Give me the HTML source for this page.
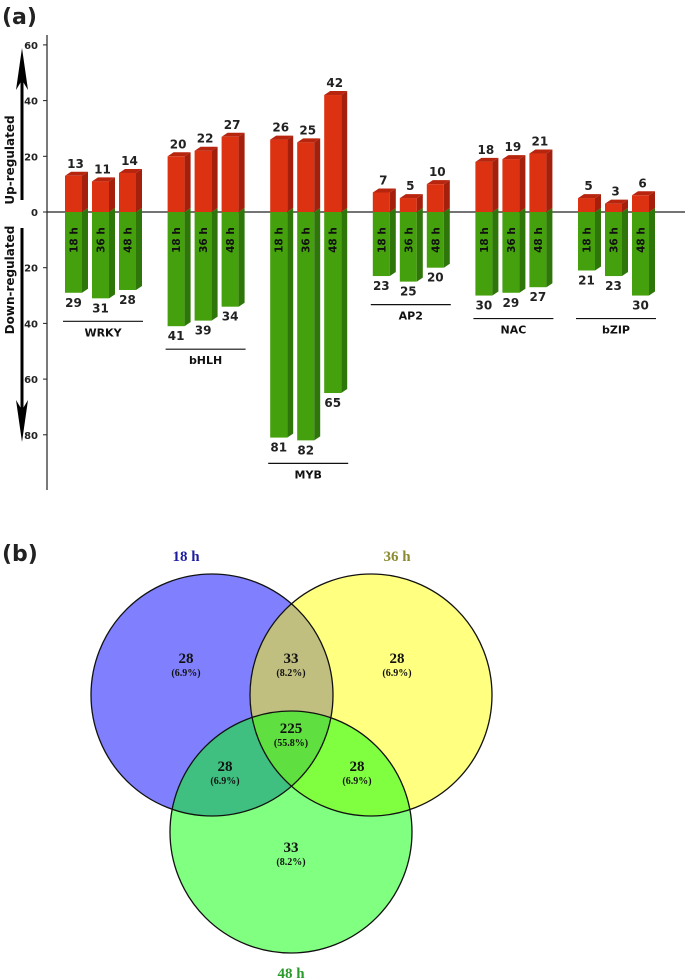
<!DOCTYPE html>
<html><head><meta charset="utf-8"><style>
body{margin:0;background:#fff}
svg{display:block}
.t{font-family:"DejaVu Sans","Liberation Sans",sans-serif;font-weight:bold}
.s{font-family:"Liberation Serif",serif;font-weight:bold}
</style></head><body>
<svg id="c" width="685" height="979" viewBox="0 0 685 979" xmlns="http://www.w3.org/2000/svg">
<text x="2" y="24" class="t" font-size="22" fill="#222">(a)</text>
<g id="axis"></g>
<g id="bars"></g>
<text x="2" y="561" class="t" font-size="22" fill="#222">(b)</text>
<g id="venn"></g>
</svg>
<script>
const families=["WRKY","bHLH","MYB","AP2","NAC","bZIP"];
const times=["18 h","36 h","48 h"];
const upValues=[[13,11,14],[20,22,27],[26,25,42],[7,5,10],[18,19,21],[5,3,6]];
const downValues=[[29,31,28],[41,39,34],[81,82,65],[23,25,20],[30,29,27],[21,23,30]];
const upTicks=[0,20,40,60];
const downTicks=[20,40,60,80];
const NS="http://www.w3.org/2000/svg";
function mk(p,tag,attrs,txt){const e=document.createElementNS(NS,tag);for(const k in attrs)e.setAttribute(k,attrs[k]);if(txt!==undefined)e.textContent=txt;p.appendChild(e);return e;}
const y0=212,k=2.785;
const yUp=v=>y0-v*k, yDn=v=>y0+v*k;
const gx=i=>65+i*102.6, bx=(i,j)=>gx(i)+j*27;
const ax=document.getElementById('axis');
let l=mk(ax,'line',{x1:47,y1:35,x2:47,y2:490,stroke:'#222','stroke-width':1.2});


l=mk(ax,'line',{x1:47,y1:y0,x2:685,y2:y0,stroke:'#222','stroke-width':1.2});


upTicks.forEach(v=>{const y=yUp(v);mk(ax,'line',{x1:43,y1:y,x2:47,y2:y,stroke:'#222'});
 const t=mk(ax,'text',{x:38,y:y+4,'text-anchor':'end','font-size':10,fill:'#222',class:'t'},v);
 
 });
downTicks.forEach(v=>{const y=yDn(v);mk(ax,'line',{x1:43,y1:y,x2:47,y2:y,stroke:'#222'});
 const t=mk(ax,'text',{x:38,y:y+4,'text-anchor':'end','font-size':10,fill:'#222',class:'t'},v);
 
 });
// arrows
mk(ax,'line',{x1:22,y1:200,x2:22,y2:75,stroke:'#000','stroke-width':3});
mk(ax,'polygon',{points:'22,48 16,90 22,80 28,90',fill:'#000'});
mk(ax,'line',{x1:22,y1:228,x2:22,y2:410,stroke:'#000','stroke-width':3});
mk(ax,'polygon',{points:'22,442 16,400 22,410 28,400',fill:'#000'});
let t=mk(ax,'text',{x:0,y:0,transform:'translate(14,160) rotate(-90)','text-anchor':'middle','font-size':12,fill:'#111',class:'t','font-weight':'normal'},'Up-regulated');


t=mk(ax,'text',{x:0,y:0,transform:'translate(14,280) rotate(-90)','text-anchor':'middle','font-size':12,fill:'#111',class:'t'},'Down-regulated');


const bg=document.getElementById('bars');
const W=17,D=6,H=4;
families.forEach((f,i)=>{
 let maxB=0;
 times.forEach((tm,j)=>{
  const x=bx(i,j),u=upValues[i][j],d=downValues[i][j];
  const yt=yUp(u),yb=yDn(d);maxB=Math.max(maxB,yb);
  const g=mk(bg,'g',{});
  
  
  mk(g,'rect',{x:x,y:y0,width:W,height:yb-y0,fill:'#44a00c'});
  mk(g,'polygon',{points:`${x+W},${y0} ${x+W+D},${y0-H} ${x+W+D},${yb-H} ${x+W},${yb}`,fill:'#2f760a'});
  mk(g,'rect',{x:x,y:yt,width:W,height:y0-yt,fill:'#dc3212'});
  mk(g,'polygon',{points:`${x+W},${yt} ${x+W+D},${yt-H} ${x+W+D},${y0-H} ${x+W},${y0}`,fill:'#a41f0c'});
  mk(g,'polygon',{points:`${x},${yt} ${x+D},${yt-H} ${x+W+D},${yt-H} ${x+W},${yt}`,fill:'#b8250e'});
  let a=mk(bg,'text',{x:x+W/2+2,y:yt-8,'text-anchor':'middle','font-size':12,fill:'#222',class:'t'},u);
  
  
  a=mk(bg,'text',{x:x+W/2,y:yb+14,'text-anchor':'middle','font-size':12,fill:'#222',class:'t'},d);
  
  
  a=mk(bg,'text',{x:0,y:0,transform:`translate(${x+W/2+4},${y0+28}) rotate(-90)`,'text-anchor':'middle','font-size':10.5,fill:'#111',class:'t','font-weight':'normal'},tm);
  
  
 });
 const ly=maxB+23;
 mk(bg,'line',{x1:gx(i)-2,y1:ly,x2:gx(i)+78,y2:ly,stroke:'#111','stroke-width':1.2});
 const a=mk(bg,'text',{x:gx(i)+38,y:ly+15,'text-anchor':'middle','font-size':11,fill:'#111',class:'t'},f);
 
 
});
// Venn
const vennCounts=[28,28,33,33,28,28,225];
const vennPct=["6.9%","6.9%","8.2%","8.2%","6.9%","6.9%","55.8%"];
const vg=document.getElementById('venn');
const C=[{x:212,y:695,c:'#8080ff'},{x:371,y:695,c:'#ffff80'},{x:291,y:832,c:'#80ff80'}],R=121;
const defs=mk(vg,'defs',{});
C.forEach((c,i)=>{const cp=mk(defs,'clipPath',{id:'cp'+i});mk(cp,'circle',{cx:c.x,cy:c.y,r:R});});
C.forEach((c,i)=>{const e=mk(vg,'circle',{cx:c.x,cy:c.y,r:R,fill:c.c});
 
 });
let g=mk(vg,'g',{'clip-path':'url(#cp0)'});mk(g,'circle',{cx:C[1].x,cy:C[1].y,r:R,fill:'#c0bf80'});
g=mk(vg,'g',{'clip-path':'url(#cp0)'});mk(g,'circle',{cx:C[2].x,cy:C[2].y,r:R,fill:'#3fbf80'});
g=mk(vg,'g',{'clip-path':'url(#cp1)'});mk(g,'circle',{cx:C[2].x,cy:C[2].y,r:R,fill:'#80ff40'});
g=mk(vg,'g',{'clip-path':'url(#cp0)'});const g2=mk(g,'g',{'clip-path':'url(#cp1)'});mk(g2,'circle',{cx:C[2].x,cy:C[2].y,r:R,fill:'#5fdf40'});
C.forEach(c=>mk(vg,'circle',{cx:c.x,cy:c.y,r:R,fill:'none',stroke:'#111','stroke-width':1.3}));
const pos=[[186,663],[397,663],[291,663],[291,852],[225,771],[357,771],[291,733]];
vennCounts.forEach((n,i)=>{
 let a=mk(vg,'text',{x:pos[i][0],y:pos[i][1],'text-anchor':'middle','font-size':15,fill:'#111',class:'s'},n);
 
 
 a=mk(vg,'text',{x:pos[i][0],y:pos[i][1]+13,'text-anchor':'middle','font-size':10,fill:'#111',class:'s'},'('+vennPct[i]+')');
 
 
});
[['18 h',186,561,'#1c1ca0'],['36 h',397,561,'#8a8a30'],['48 h',291,978,'#2a9a2a']].forEach(s=>{
 const a=mk(vg,'text',{x:s[1],y:s[2],'text-anchor':'middle','font-size':15,fill:s[3],class:'s'},s[0]);
 
 
});
</script>
</body></html>
